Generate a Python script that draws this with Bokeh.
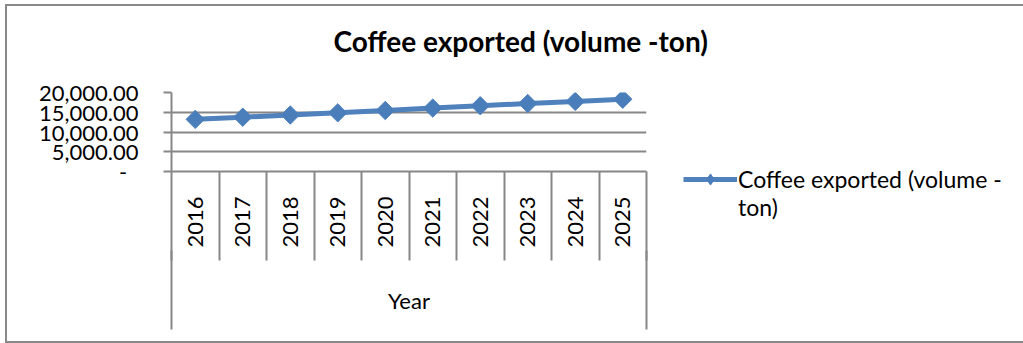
from math import pi

from bokeh.plotting import figure
from bokeh.models import (Range1d, FixedTicker, NumeralTickFormatter, Legend, LegendItem,
                          LinearAxis)
from bokeh.embed import file_html
from bokeh.resources import INLINE

# ---- data ----
years = ["2016", "2017", "2018", "2019", "2020", "2021", "2022", "2023", "2024", "2025"]
volumes = [13200, 13750, 14300, 14850, 15450, 16050, 16650, 17200, 17750, 18300]
y_ticks = [0, 5000, 10000, 15000, 20000]
chart_title = "Coffee exported (volume -ton)"
legend_line1 = "Coffee exported (volume -"
legend_line2 = "ton)"
x_title = "Year"

# ---- style ----
FONT = "Lato"
GRID = "#878787"
BLUE = "#4f81bd"
FS = "22px"

n = len(years)
x_pos = list(range(n))
x_bounds = [i - 0.5 for i in range(n + 1)]

p = figure(frame_width=475, frame_height=79,
           min_border_left=164, min_border_right=377,
           min_border_top=86, min_border_bottom=170,
           x_range=Range1d(-0.5, n - 0.5), y_range=Range1d(0, y_ticks[-1]),
           output_backend="svg", toolbar_location=None,
           outline_line_color=None, background_fill_color="white",
           border_fill_color="white")
p.styles = {"margin-left": "5px", "margin-top": "4px",
            "border-left": "2px solid #898989", "border-top": "2px solid #898989",
            "border-bottom": "2px solid #898989"}

# title
p.title.text = chart_title
p.title.align = "left"
p.title.offset = 162
p.title.standoff = 0
p.title.padding = dict(left=0, right=0, top=0, bottom=35)
p.title.text_font = FONT
p.title.text_font_size = "28px"
p.title.text_font_style = "bold"
p.title.text_color = "black"

# x axis (categories with divider lines)
xa = p.xaxis[0]
xa.ticker = FixedTicker(ticks=x_pos, minor_ticks=x_bounds)
xa.major_label_overrides = {i: y for i, y in zip(x_pos, years)}
xa.major_label_orientation = pi / 2
xa.major_tick_out = 0
xa.major_tick_in = 0
xa.minor_tick_out = 89
xa.minor_tick_in = 0
xa.minor_tick_line_color = GRID
xa.minor_tick_line_width = 2
xa.axis_line_color = GRID
xa.axis_line_width = 2
xa.major_label_standoff = -64
xa.major_label_text_font = FONT
xa.major_label_text_font_size = FS
xa.major_label_text_color = "black"

# second x axis: outer category box lines + axis title
xb = LinearAxis(ticker=FixedTicker(ticks=[x_bounds[0], x_bounds[-1]], minor_ticks=[]),
                major_label_overrides={x_bounds[0]: "", x_bounds[-1]: ""},
                major_label_text_font_size="0px", major_label_standoff=0,
                major_tick_out=79, major_tick_in=0, minor_tick_out=0, minor_tick_in=0,
                major_tick_line_color=GRID, major_tick_line_width=2,
                axis_line_color=None,
                axis_label=x_title, axis_label_standoff=-43,
                axis_label_text_font=FONT, axis_label_text_font_size=FS,
                axis_label_text_font_style="normal", axis_label_text_color="black")
p.add_layout(xb, "below")

# y axis
ya = p.yaxis[0]
ya.ticker = FixedTicker(ticks=y_ticks, minor_ticks=[])
ya.formatter = NumeralTickFormatter(format="0,0.00")
ya.major_label_overrides = {0: "-\u00a0\u00a0"}
ya.major_tick_out = 8
ya.major_tick_in = 0
ya.minor_tick_out = 0
ya.minor_tick_in = 0
ya.major_tick_line_color = GRID
ya.major_tick_line_width = 2
ya.axis_line_color = GRID
ya.axis_line_width = 2
ya.major_label_standoff = 25
ya.major_label_text_font = FONT
ya.major_label_text_font_size = FS
ya.major_label_text_color = "black"

p.xgrid.visible = False
p.ygrid.grid_line_color = GRID
p.ygrid.grid_line_width = 2

# series
line_r = p.line(x_pos, volumes, line_color=BLUE, line_width=5)
# diamond glyph used for the legend key (drawn underneath the markers below)
legend_pts = p.scatter(x_pos, volumes, marker="diamond", size=13,
                       fill_color="#4a7ebb", line_color=BLUE, line_width=1)
pts_r = p.scatter(x_pos, volumes, marker="square", angle=pi / 4, size=13,
                  fill_color="#4a7ebb", line_color=BLUE, line_width=1)
# invisible companion used only for the wrapped second legend line
ghost_r = p.line(x_pos, volumes, line_alpha=0)

legend = Legend(items=[LegendItem(label=legend_line1, renderers=[line_r, legend_pts]),
                       LegendItem(label=legend_line2, renderers=[ghost_r])],
                location=(37, -50), padding=0, margin=0, spacing=0,
                border_line_color=None, background_fill_alpha=0,
                glyph_width=54, glyph_height=28, label_height=25, label_standoff=1,
                label_text_font=FONT, label_text_font_size="23px",
                label_text_color="black")
p.add_layout(legend, "right")

open("out.html", "w").write(file_html(p, INLINE))
